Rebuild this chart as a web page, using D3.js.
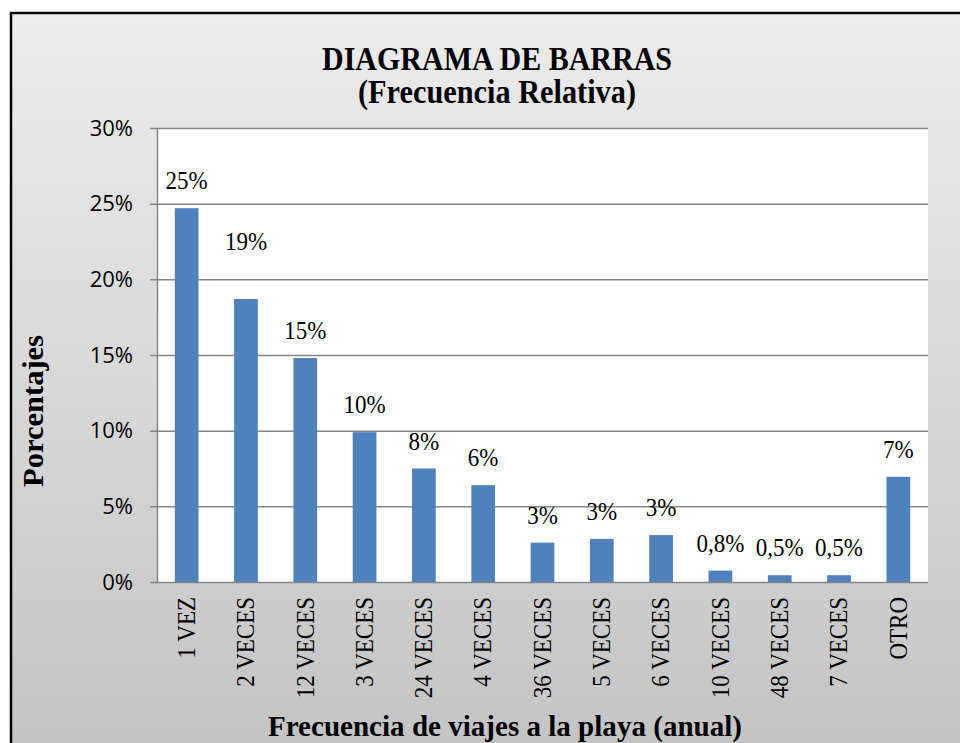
<!DOCTYPE html>
<html>
<head>
<meta charset="utf-8">
<script src="https://cdn.jsdelivr.net/npm/d3@7"></script>
<style>
  body { margin: 0; background: #fff; }
  svg { display: block; }
</style>
</head>
<body>
<svg></svg>
<script>
// Chart data
const categories = ["1 VEZ", "2 VECES", "12 VECES", "3 VECES", "24 VECES", "4 VECES", "36 VECES",
                    "5 VECES", "6 VECES", "10 VECES", "48 VECES", "7 VECES", "OTRO"];
const percents = [24.7, 18.7, 14.8, 9.9, 7.5, 6.4, 2.6, 2.85, 3.1, 0.75, 0.45, 0.45, 6.95];
const labels = ["25%", "19%", "15%", "10%", "8%", "6%", "3%", "3%", "3%", "0,8%", "0,5%", "0,5%", "7%"];
const yTicks = [0, 5, 10, 15, 20, 25, 30];

const W = 960, H = 743;
const plot = {left: 157, right: 928, top: 128, bottom: 582};
const serif = "'Liberation Serif', 'Times New Roman', serif";
const squeeze = 0.92; // the original text is drawn a bit narrow

const svg = d3.select("svg").attr("width", W).attr("height", H);

// Chart area background with soft grey gradient
const grad = svg.append("defs").append("linearGradient")
    .attr("id", "bg").attr("x1", 0).attr("y1", 0).attr("x2", 0).attr("y2", 1);
grad.append("stop").attr("offset", "0%").attr("stop-color", "#ececec");
grad.append("stop").attr("offset", "100%").attr("stop-color", "#c3c3c3");

svg.append("rect")
   .attr("x", 11).attr("y", 13)
   .attr("width", W + 10).attr("height", H + 10)
   .attr("fill", "url(#bg)")
   .attr("stroke", "#000").attr("stroke-width", 2.5);

svg.append("rect")
   .attr("x", plot.left).attr("y", plot.top)
   .attr("width", plot.right - plot.left).attr("height", plot.bottom - plot.top)
   .attr("fill", "#fff");

// Scales
const x = d3.scaleBand()
            .domain(categories)
            .range([plot.left, plot.right])
            .paddingInner(0.6)
            .paddingOuter(0.3);

const y = d3.scaleLinear()
            .domain([0, 30])
            .range([plot.bottom, plot.top]);

// Gridlines + y axis
const yAxis = d3.axisLeft(y)
                .tickValues(yTicks)
                .tickSize(-(plot.right - plot.left))
                .tickSizeOuter(0)
                .tickPadding(24)
                .tickFormat(d => d + "%");

const gy = svg.append("g")
              .attr("transform", `translate(${plot.left},0)`)
              .call(yAxis);
gy.select(".domain").attr("stroke", "#868686").attr("stroke-width", 1.5);
gy.selectAll(".tick line")
  .attr("x1", -7)
  .attr("stroke", "#868686").attr("stroke-width", 1.5);
gy.selectAll(".tick text")
  .attr("font-family", "'Open Sans', sans-serif")
  .attr("font-size", 22)
  .attr("fill", "#000");

// Bars
svg.selectAll(".bar")
   .data(percents)
   .enter()
   .append("rect")
   .attr("class", "bar")
   .attr("x", (d, i) => x(categories[i]))
   .attr("y", d => y(d))
   .attr("width", x.bandwidth())
   .attr("height", d => y(0) - y(d))
   .attr("fill", "#4f81bd");

// The "19%" label was dragged up in the original chart
const labelLift = {"2 VECES": 30};

svg.selectAll(".value")
   .data(percents)
   .enter()
   .append("text")
   .attr("class", "value")
   .attr("x", (d, i) => x(categories[i]) + x.bandwidth() / 2)
   .attr("y", (d, i) => y(d) - 19 - (labelLift[categories[i]] || 0))
   .attr("text-anchor", "middle")
   .attr("font-family", serif)
   .attr("font-size", 25)
   .text((d, i) => labels[i]);

// X axis category labels (rotated)
svg.selectAll(".cat")
   .data(categories)
   .enter()
   .append("text")
   .attr("class", "cat")
   .attr("transform", d => `translate(${x(d) + x.bandwidth() / 2},597) rotate(-90)`)
   .attr("dy", "0.33em")
   .attr("text-anchor", "end")
   .attr("font-family", serif)
   .attr("font-size", 25)
   .text(d => d);

svg.selectAll(".value, .cat").each(function() {
    const t = d3.select(this);
    t.attr("textLength", this.getComputedTextLength() * squeeze)
     .attr("lengthAdjust", "spacingAndGlyphs");
});

// Titles
function title(txt, tx, ty, size, len, rot) {
    svg.append("text")
       .attr("transform", `translate(${tx},${ty})` + (rot ? " rotate(-90)" : ""))
       .attr("text-anchor", "middle")
       .attr("font-family", serif)
       .attr("font-weight", "bold")
       .attr("font-size", size)
       .attr("textLength", len)
       .attr("lengthAdjust", "spacingAndGlyphs")
       .text(txt);
}
title("DIAGRAMA DE BARRAS", 497, 70, 34, 350);
title("(Frecuencia Relativa)", 497, 103, 33, 278);
title("Frecuencia de viajes a la playa  (anual)", 505, 736, 30, 474);
title("Porcentajes", 43, 411, 29, 152, true);
</script>
</body>
</html>
